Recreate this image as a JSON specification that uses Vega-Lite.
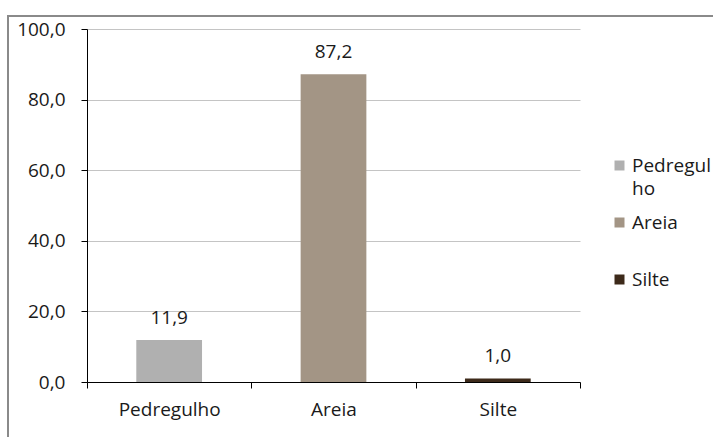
{
  "$schema": "https://vega.github.io/schema/vega-lite/v6.json",
  "width": 708,
  "height": 425,
  "autosize": "none",
  "padding": {"left": 8, "top": 16, "right": -3, "bottom": -4},
  "config": {
    "font": "Open Sans",
    "locale": {
      "number": {"decimal": ",", "thousands": ".", "grouping": [3], "currency": ["R$ ", ""]}
    },
    "view": {"stroke": "#8a8a8a", "strokeWidth": 2},
    "style": {"guide-label": {"lineHeight": 23}}
  },
  "data": {
    "values": [
      {"fracao": "Pedregulho", "percentual": 11.9},
      {"fracao": "Areia", "percentual": 87.2},
      {"fracao": "Silte", "percentual": 1.0}
    ]
  },
  "encoding": {
    "x": {
      "field": "fracao",
      "type": "nominal",
      "sort": null,
      "scale": {"range": [79, 572], "paddingInner": 0, "paddingOuter": 0},
      "axis": {
        "title": null,
        "labelAngle": 0,
        "tickBand": "extent",
        "tickSize": 6,
        "tickColor": "#000000",
        "domainColor": "#000000",
        "labelPadding": 12,
        "labelFontSize": 19,
        "labelColor": "#1a1a1a",
        "offset": -59,
        "grid": false
      }
    },
    "y": {
      "field": "percentual",
      "type": "quantitative",
      "scale": {"domain": [0, 100], "range": [366, 13], "nice": false, "zero": true},
      "axis": {
        "title": null,
        "values": [0, 20, 40, 60, 80, 100],
        "format": ".1f",
        "offset": -79,
        "tickSize": 6,
        "tickColor": "#000000",
        "domainColor": "#000000",
        "gridColor": "#c4c4c4",
        "labelPadding": 16,
        "labelFontSize": 19,
        "labelColor": "#1a1a1a"
      }
    }
  },
  "layer": [
    {
      "mark": {"type": "bar", "width": {"band": 0.4}},
      "encoding": {
        "fill": {
          "field": "fracao",
          "type": "nominal",
          "scale": {
            "domain": ["Pedregulho", "Areia", "Silte"],
            "range": ["#b0b0b0", "#a39585", "#3d2a1a"]
          },
          "legend": {
            "orient": "none",
            "legendX": 602,
            "legendY": 140,
            "title": null,
            "symbolType": "square",
            "symbolSize": 100,
            "symbolStrokeWidth": 0,
            "labelFontSize": 19,
            "labelColor": "#1a1a1a",
            "labelOffset": 3,
            "gridAlign": "all",
            "rowPadding": 14,
            "labelExpr": "datum.label == 'Pedregulho' ? ['Pedregul', 'ho'] : datum.label",
            "encoding": {
              "labels": {"dy": {"signal": "datum.value == 'Pedregulho' ? 11 : 0"}}
            }
          }
        }
      }
    },
    {
      "mark": {"type": "text", "baseline": "middle", "dy": -22, "fontSize": 19, "color": "#1a1a1a"},
      "encoding": {
        "text": {"field": "percentual", "type": "quantitative", "format": ".1f"}
      }
    }
  ]
}
